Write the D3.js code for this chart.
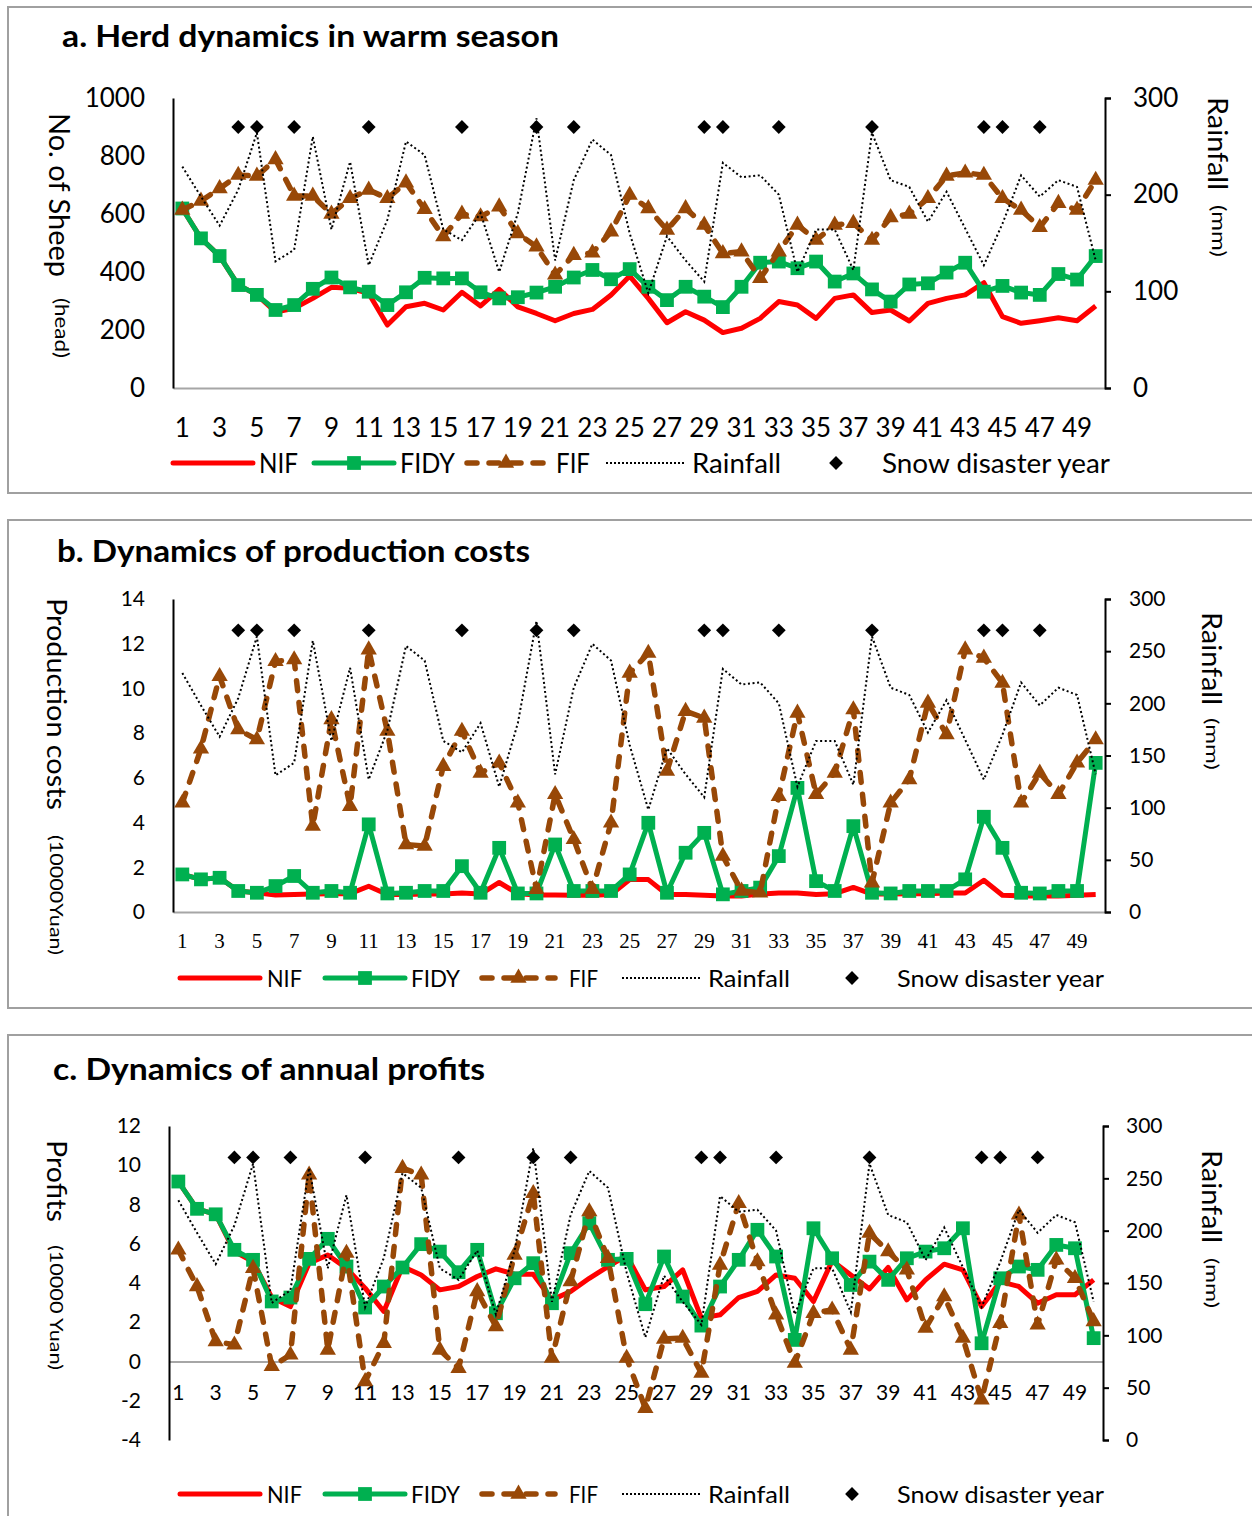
<!DOCTYPE html>
<html>
<head>
<meta charset="utf-8">
<script src="https://cdn.jsdelivr.net/npm/d3@7"></script>
<style>
  body { margin: 0; background: #fff; }
  svg { display: block; }
  text { font-family: Lato, "Open Sans", sans-serif; fill: #000; }
</style>
</head>
<body>
<svg id="chart" width="1252" height="1516"></svg>
<script>
// ---- data ----
var years = [1,2,3,4,5,6,7,8,9,10,11,12,13,14,15,16,17,18,19,20,21,22,23,24,25,
             26,27,28,29,30,31,32,33,34,35,36,37,38,39,40,41,42,43,44,45,46,47,48,49,50];
var yearLabels = [1,3,5,7,9,11,13,15,17,19,21,23,25,27,29,31,33,35,37,39,41,43,45,47,49];

var snowYears = [4,5,7,11,16,20,22,29,30,33,38,44,45,47];
var snowLevel = 270; // drawn on the rainfall axis

var rainfall = [229,198,168,205,264,131,143,260,164,234,127,174,255,241,164,153,181,120,181,279,
                132,215,257,241,160,98,157,132,110,233,218,220,200,120,164,164,122,264,215,208,
                172,203,165,127,170,220,198,215,208,132];

// a. herd size (head)
var sheepNIF  = [619,516,455,355,321,262,275,309,347,344,326,217,280,292,269,330,283,340,280,257,
                 232,257,271,321,386,309,225,263,234,191,206,240,298,286,240,309,321,260,269,231,
                 292,309,321,363,246,223,232,242,232,283];
var sheepFIDY = [619,516,455,355,321,269,286,342,381,347,332,286,330,380,378,378,330,309,313,329,
                 349,381,407,375,410,349,303,349,315,279,349,432,436,413,436,367,395,340,298,357,
                 361,398,432,332,352,329,321,393,374,455];
var sheepFIF  = [614,645,688,734,731,788,662,662,600,654,683,654,708,616,522,600,591,625,533,487,
                 390,458,466,539,665,619,545,619,562,464,470,378,470,562,510,562,568,510,588,600,
                 654,731,742,734,654,614,554,637,614,717];

// b. production costs (10000 Yuan)
var costNIF  = [1.68,1.46,1.53,0.94,0.86,0.76,0.78,0.80,0.82,0.82,1.15,0.78,0.78,0.80,0.80,0.85,0.80,1.32,0.82,0.76,
                0.76,0.75,0.75,0.78,1.45,1.45,0.78,0.78,0.75,0.72,0.72,0.80,0.85,0.85,0.78,0.82,1.10,0.80,0.80,0.82,
                0.82,0.85,0.85,1.42,0.75,0.72,0.72,0.72,0.75,0.78];
var costFIDY = [1.68,1.46,1.53,0.94,0.86,1.16,1.61,0.86,0.94,0.86,3.92,0.83,0.86,0.94,0.94,2.05,0.86,2.87,0.83,0.83,
                3.02,0.94,0.94,0.94,1.68,3.99,0.86,2.65,3.54,0.79,0.94,1.09,2.50,5.55,1.38,0.94,3.84,0.86,0.83,0.94,
                0.94,0.94,1.46,4.26,2.87,0.86,0.83,0.94,0.94,6.67];
var costFIF  = [4.88,7.30,10.54,8.16,7.71,11.21,11.29,3.84,8.61,4.73,11.73,8.09,3.02,2.95,6.52,8.09,6.22,6.67,4.88,1.01,
                5.26,3.25,1.01,3.99,10.69,11.58,6.30,8.98,8.68,2.50,0.94,0.86,5.18,8.90,5.26,6.22,9.05,1.31,4.88,5.93,
                9.35,7.94,11.73,11.36,10.24,4.88,6.22,5.26,6.67,7.71];

// c. annual profits (10000 Yuan)
var profitNIF  = [9.17,7.78,7.50,5.60,5.09,3.26,2.80,5.01,5.43,4.75,3.74,2.55,4.84,4.41,3.65,3.82,4.33,4.72,4.45,4.45,
                  3.14,3.57,4.24,4.84,5.40,3.65,3.82,4.67,2.21,2.38,3.26,3.57,4.41,4.24,3.06,5.13,4.41,3.70,4.79,3.14,
                  4.16,4.96,4.67,2.80,4.07,3.82,2.97,3.40,3.40,4.16];
var profitFIDY = [9.17,7.78,7.50,5.69,5.18,3.06,3.26,5.23,6.25,4.84,2.75,3.82,4.79,5.98,5.60,4.55,5.69,2.46,4.24,5.01,
                  2.97,5.52,7.05,5.18,5.23,2.92,5.35,3.31,1.83,3.82,5.18,6.71,5.35,1.10,6.79,5.26,3.90,5.09,4.16,5.26,
                  5.60,5.77,6.79,0.93,4.24,4.84,4.67,5.94,5.77,1.19];
var profitFIF  = [5.69,3.82,1.02,0.85,4.75,-0.25,0.34,9.51,0.59,5.52,-1.02,0.93,9.85,9.51,0.59,-0.34,3.57,1.78,5.43,8.57,
                  0.17,4.07,7.64,5.26,0.17,-2.38,1.15,1.19,-0.59,4.92,8.06,5.09,2.38,-0.08,2.46,2.63,0.59,6.54,5.60,4.67,
                  1.70,3.31,1.19,-1.95,1.95,7.47,1.87,5.18,4.24,2.04];

var sheepTicks  = [0,200,400,600,800,1000];
var costTicks   = [0,2,4,6,8,10,12,14];
var profitTicks = [-4,-2,0,2,4,6,8,10,12];
var rainTicksA  = [0,100,200,300];
var rainTicksBC = [0,50,100,150,200,250,300];

var RED = "#ff0000", GREEN = "#00b050", BROWN = "#984807";

// ---- panel settings ----
var legendBC = { nif: [180, 260, 267, 35], fidy: [325, 405, 411, 49], fif: [482, 555, 569, 29],
                 rain: [622, 700, 708, 82], snow: [852, 897, 207] };

var panels = [
  { frame: [7, 493], title: "a. Herd dynamics in warm season", titleX: 62, titleY: 35, titleLen: 497,
    left: 173, right: 1105, top: 98, bottom: 388, leftDomain: [0, 1000], leftTicks: sheepTicks, rightTicks: rainTicksA,
    nif: sheepNIF, fidy: sheepFIDY, fif: sheepFIF,
    tickFont: 26, xFont: 26, xSerif: false, xLabelDy: 40, leftPad: 28, rightPad: 22,
    yLabel: ["No. of Sheep", 60, 113, 28, 164], yUnit: ["(head)", 62, 298, 19, 60],
    rLabel: ["Rainfall", 1218, 97, 27, 93], rUnit: ["(mm)", 1219, 205, 19, 52],
    legendY: 463, legendFont: 26,
    legend: { nif: [173, 253, 259, 39], fidy: [314, 394, 400, 55], fif: [467, 545, 556, 34],
              rain: [606, 686, 692, 89], snow: [836, 882, 228] } },
  { frame: [520, 1008], title: "b. Dynamics of production costs", titleX: 57, titleY: 550, titleLen: 473,
    left: 173, right: 1105, top: 599, bottom: 912, leftDomain: [0, 14], leftTicks: costTicks, rightTicks: rainTicksBC,
    nif: costNIF, fidy: costFIDY, fif: costFIF,
    tickFont: 21, xFont: 21, xSerif: true, xLabelDy: 29, leftPad: 28, rightPad: 18,
    yLabel: ["Production costs", 57, 598, 27, 212], yUnit: ["(10000Yuan)", 57, 835, 18, 120],
    rLabel: ["Rainfall", 1212, 612, 26, 93], rUnit: ["(mm)", 1213, 718, 18, 52],
    legendY: 978, legendFont: 23, legend: legendBC },
  { frame: [1035, 1530], title: "c. Dynamics of annual profits", titleX: 53, titleY: 1068, titleLen: 432,
    left: 169, right: 1103, top: 1126, bottom: 1440, leftDomain: [-4, 12], leftTicks: profitTicks, rightTicks: rainTicksBC,
    nif: profitNIF, fidy: profitFIDY, fif: profitFIF,
    tickFont: 21, xFont: 21, xSerif: false, xLabelDy: 31, leftPad: 28, rightPad: 17,
    yLabel: ["Profits", 57, 1140, 27, 82], yUnit: ["(10000 Yuan)", 57, 1245, 18, 125],
    rLabel: ["Rainfall", 1212, 1150, 26, 93], rUnit: ["(mm)", 1213, 1258, 18, 50],
    legendY: 1494, legendFont: 23, legend: legendBC }
];

var svg = d3.select("#chart");

var squareSym = d3.symbol().type(d3.symbolSquare).size(190);
var triSym = d3.symbol().type(d3.symbolTriangle).size(115);
var diamondSym = d3.symbol().type(d3.symbolSquare).size(95);
var plainNum = function(d) { return String(d); };

function vText(g, spec) {
  // rotated label reading top to bottom
  g.append("text")
    .attr("transform", "translate(" + spec[1] + "," + spec[2] + ") rotate(90)")
    .attr("dominant-baseline", "central")
    .attr("font-size", spec[3])
    .attr("textLength", spec[4])
    .attr("lengthAdjust", "spacingAndGlyphs")
    .text(spec[0]);
}

function drawPanel(p) {
  var g = svg.append("g");

  // frame
  g.append("rect")
    .attr("x", 8).attr("y", p.frame[0])
    .attr("width", 1260).attr("height", p.frame[1] - p.frame[0])
    .attr("fill", "none").attr("stroke", "#a0a0a0").attr("stroke-width", 2);

  g.append("text")
    .attr("x", p.titleX).attr("y", p.titleY)
    .attr("dominant-baseline", "central")
    .attr("font-size", 30).attr("font-weight", "bold")
    .attr("textLength", p.titleLen).attr("lengthAdjust", "spacingAndGlyphs")
    .text(p.title);

  var x = d3.scaleBand().domain(years).range([p.left, p.right]).padding(0);
  var cx = function(yr) { return x(yr) + x.bandwidth() / 2; };
  var y = d3.scaleLinear().domain(p.leftDomain).range([p.bottom, p.top]);
  var yr = d3.scaleLinear().domain([0, 300]).range([p.bottom, p.top]);

  // category axis (sits on zero)
  var xAxis = g.append("g")
    .attr("transform", "translate(0," + y(0) + ")")
    .call(d3.axisBottom(x).tickValues(yearLabels).tickSize(0).tickSizeOuter(0));
  xAxis.select(".domain").attr("stroke", "#a6a6a6").attr("stroke-width", 2);
  xAxis.selectAll("text")
    .attr("y", p.xLabelDy).attr("dy", "0.35em")
    .attr("font-size", p.xFont)
    .style("font-family", p.xSerif ? "'Liberation Serif', 'Times New Roman', serif" : null);
  xAxis.attr("font-family", null).attr("font-size", null);

  // left axis
  var yAxis = g.append("g")
    .attr("transform", "translate(" + p.left + ",0)")
    .call(d3.axisLeft(y).tickValues(p.leftTicks).tickFormat(plainNum)
      .tickSize(0).tickSizeOuter(0).tickPadding(p.leftPad));
  yAxis.select(".domain").attr("stroke", "#000").attr("stroke-width", 2);
  yAxis.selectAll("text").attr("font-size", p.tickFont);
  yAxis.attr("font-family", null).attr("font-size", null);

  // right (rainfall) axis
  var rAxis = g.append("g")
    .attr("transform", "translate(" + p.right + ",0)")
    .call(d3.axisRight(yr).tickValues(p.rightTicks).tickFormat(plainNum)
      .tickSize(6).tickSizeOuter(6).tickPadding(p.rightPad));
  rAxis.select(".domain").attr("stroke", "#000").attr("stroke-width", 2);
  rAxis.selectAll(".tick line").attr("stroke", "#000").attr("stroke-width", 2);
  rAxis.selectAll("text").attr("font-size", p.tickFont);
  rAxis.attr("font-family", null).attr("font-size", null);

  vText(g, p.yLabel);
  vText(g, p.yUnit);
  vText(g, p.rLabel);
  vText(g, p.rUnit);

  var line = d3.line().x(function(d, i) { return cx(years[i]); }).y(function(d) { return y(d); });
  var rainLine = d3.line().x(function(d, i) { return cx(years[i]); }).y(function(d) { return yr(d); });

  // NIF
  g.append("path").datum(p.nif).attr("d", line)
    .attr("fill", "none").attr("stroke", RED).attr("stroke-width", 5).attr("stroke-linejoin", "round");

  // FIDY
  g.append("path").datum(p.fidy).attr("d", line)
    .attr("fill", "none").attr("stroke", GREEN).attr("stroke-width", 5).attr("stroke-linejoin", "round");
  g.selectAll(".sq").data(p.fidy).enter().append("path")
    .attr("d", squareSym)
    .attr("transform", function(d, i) { return "translate(" + cx(years[i]) + "," + y(d) + ")"; })
    .attr("fill", GREEN);

  // FIF
  g.append("path").datum(p.fif).attr("d", line)
    .attr("fill", "none").attr("stroke", BROWN).attr("stroke-width", 5.5)
    .attr("stroke-dasharray", "10,12").attr("stroke-linecap", "round").attr("stroke-linejoin", "round");
  g.selectAll(".tri").data(p.fif).enter().append("path")
    .attr("d", triSym)
    .attr("transform", function(d, i) { return "translate(" + cx(years[i]) + "," + y(d) + ")"; })
    .attr("fill", BROWN);

  // rainfall
  g.append("path").datum(rainfall).attr("d", rainLine)
    .attr("fill", "none").attr("stroke", "#000").attr("stroke-width", 2).attr("stroke-dasharray", "2,2.6");

  // snow disaster years
  g.selectAll(".snow").data(snowYears).enter().append("path")
    .attr("d", diamondSym)
    .attr("transform", function(d) { return "translate(" + cx(d) + "," + yr(snowLevel) + ") rotate(45)"; })
    .attr("fill", "#000");

  // legend
  var L = p.legend, ly = p.legendY;
  var lg = g.append("g");
  function legText(xp, t, w) {
    lg.append("text").attr("x", xp).attr("y", ly).attr("dominant-baseline", "central")
      .attr("font-size", p.legendFont)
      .attr("textLength", w).attr("lengthAdjust", "spacingAndGlyphs")
      .text(t);
  }
  lg.append("line").attr("x1", L.nif[0]).attr("x2", L.nif[1]).attr("y1", ly).attr("y2", ly)
    .attr("stroke", RED).attr("stroke-width", 5).attr("stroke-linecap", "round");
  legText(L.nif[2], "NIF", L.nif[3]);

  lg.append("line").attr("x1", L.fidy[0]).attr("x2", L.fidy[1]).attr("y1", ly).attr("y2", ly)
    .attr("stroke", GREEN).attr("stroke-width", 5).attr("stroke-linecap", "round");
  lg.append("path").attr("d", squareSym)
    .attr("transform", "translate(" + (L.fidy[0] + L.fidy[1]) / 2 + "," + ly + ")").attr("fill", GREEN);
  legText(L.fidy[2], "FIDY", L.fidy[3]);

  lg.append("line").attr("x1", L.fif[0]).attr("x2", L.fif[1]).attr("y1", ly).attr("y2", ly)
    .attr("stroke", BROWN).attr("stroke-width", 5.5).attr("stroke-linecap", "round")
    .attr("stroke-dasharray", "10,12");
  lg.append("path").attr("d", triSym)
    .attr("transform", "translate(" + (L.fif[0] + L.fif[1]) / 2 + "," + ly + ")").attr("fill", BROWN);
  legText(L.fif[2], "FIF", L.fif[3]);

  lg.append("line").attr("x1", L.rain[0]).attr("x2", L.rain[1]).attr("y1", ly).attr("y2", ly)
    .attr("stroke", "#000").attr("stroke-width", 2).attr("stroke-dasharray", "2,2");
  legText(L.rain[2], "Rainfall", L.rain[3]);

  lg.append("path").attr("d", diamondSym)
    .attr("transform", "translate(" + L.snow[0] + "," + ly + ") rotate(45)").attr("fill", "#000");
  legText(L.snow[1], "Snow disaster year", L.snow[2]);
}

panels.forEach(drawPanel);
</script>
</body>
</html>
